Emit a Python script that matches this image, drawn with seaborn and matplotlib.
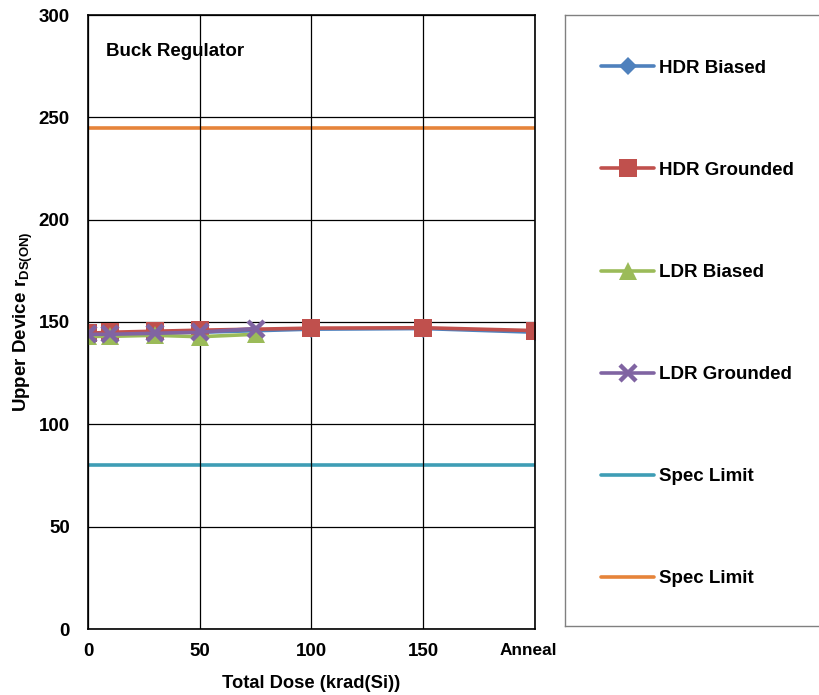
import matplotlib
matplotlib.use("Agg")
import matplotlib.pyplot as plt
import matplotlib.transforms as mtransforms
import seaborn as sns
import pandas as pd

# Dose steps (krad(Si)); 200 stands for the anneal step
hdr_dose = [0, 10, 30, 50, 100, 150, 200]
ldr_dose = [0, 10, 30, 50, 75]

hdr_biased = [144.0, 144.5, 145.0, 145.0, 146.5, 146.8, 145.0]
hdr_grounded = [144.5, 145.0, 145.5, 146.0, 147.0, 147.2, 145.8]
ldr_biased = [143.0, 143.0, 143.5, 142.8, 144.0]
ldr_grounded = [144.0, 144.0, 144.5, 145.0, 146.8]

spec_x = [0, 200]
spec_low = [80, 80]
spec_high = [245, 245]

x_ticks = [0, 50, 100, 150, 200]
x_ticklabels = ["0", "50", "100", "150", "Anneal"]
y_ticks = [0, 50, 100, 150, 200, 250, 300]

sns.set_theme(style="white")
plt.rcParams["font.family"] = ["Liberation Sans", "DejaVu Sans"]
plt.rcParams["font.weight"] = "bold"
plt.rcParams["text.color"] = "black"
plt.rcParams["axes.labelcolor"] = "black"
plt.rcParams["xtick.color"] = "black"
plt.rcParams["ytick.color"] = "black"
plt.rcParams["mathtext.fontset"] = "custom"
plt.rcParams["mathtext.rm"] = "Liberation Sans:bold"
plt.rcParams["mathtext.it"] = "Liberation Sans:bold"
plt.rcParams["mathtext.default"] = "rm"

FS = 13.5

fig = plt.figure(figsize=(8.19, 6.95), dpi=100)
ax = fig.add_axes([88 / 819, 1 - 629 / 695, (535 - 88) / 819, (629 - 15) / 695])

blue = "#4F81BD"
red = "#C0504D"
green = "#9BBB59"
purple = "#8064A2"
teal = "#3E9DB5"
orange = "#E6843A"

lw = 2.6
series = [
    (hdr_dose, hdr_biased, "HDR Biased", blue, dict(marker="D", markersize=9, markeredgewidth=0), 2),
    (hdr_dose, hdr_grounded, "HDR Grounded", red, dict(marker="s", markersize=12.5, markeredgewidth=0), 2.1),
    (ldr_dose, ldr_biased, "LDR Biased", green, dict(marker="^", markersize=12.5, markeredgewidth=0), 2.2),
    (ldr_dose, ldr_grounded, "LDR Grounded", purple, dict(marker="x", markersize=11, markeredgewidth=3.2), 2.3),
    (spec_x, spec_low, "Spec Limit", teal, dict(), 1),
    (spec_x, spec_high, "Spec Limit", orange, dict(), 1),
]

for xs, ys, name, col, mk, z in series:
    df = pd.DataFrame({"dose": xs, "val": ys})
    sns.lineplot(data=df, x="dose", y="val", ax=ax, color=col, linewidth=lw,
                 label=name, markeredgecolor=col, zorder=z, **mk)

ax.set_xlim(0, 200)
ax.set_ylim(0, 300)
ax.set_xticks(x_ticks)
ax.set_xticklabels(x_ticklabels)
ax.set_yticks(y_ticks)
ax.tick_params(axis="x", pad=10, length=0)
ax.tick_params(axis="y", pad=13, length=0)
for lbl in ax.get_xticklabels():
    lbl.set_fontsize(FS)
    lbl.set_fontweight("bold")
# the anneal label sits slightly left of the axis end
anneal = ax.get_xticklabels()[-1]
anneal.set_fontsize(12.4)
anneal.set_transform(anneal.get_transform() +
                     mtransforms.ScaledTranslation(-7 / 100, 0, fig.dpi_scale_trans))
for lbl in ax.get_yticklabels():
    lbl.set_fontsize(FS)
    lbl.set_fontweight("bold")
ax.grid(True, color="black", linewidth=0.9)
ax.set_axisbelow("line")
for sp in ax.spines.values():
    sp.set_color("black")
    sp.set_linewidth(1.2)

ax.set_xlabel("Total Dose (krad(Si))", fontsize=13.2, fontweight="bold", labelpad=11)
ax.set_ylabel(r"Upper Device r$_{\mathrm{DS(ON)}}$", fontsize=FS, fontweight="bold", labelpad=3)
ax.text(0.04, 0.94, "Buck Regulator", transform=ax.transAxes, fontsize=FS,
        fontweight="bold", ha="left", va="center")

handles, labels = ax.get_legend_handles_labels()
ax.get_legend().remove()

# Legend panel to the right of the plot
lax = fig.add_axes([565 / 819, 1 - 626 / 695, (830 - 565) / 819, (626 - 15) / 695])
lax.set_xticks([])
lax.set_yticks([])
for sp in lax.spines.values():
    sp.set_color("#808080")
    sp.set_linewidth(1.0)
lax.set_facecolor("white")
leg = lax.legend(handles, labels, loc="center left", bbox_to_anchor=(0.072, 0.495),
                 frameon=False, prop={"weight": "bold", "size": FS},
                 labelspacing=4.53, handlelength=2.85, handletextpad=0.25)

fig.savefig("out.png", dpi=100)
